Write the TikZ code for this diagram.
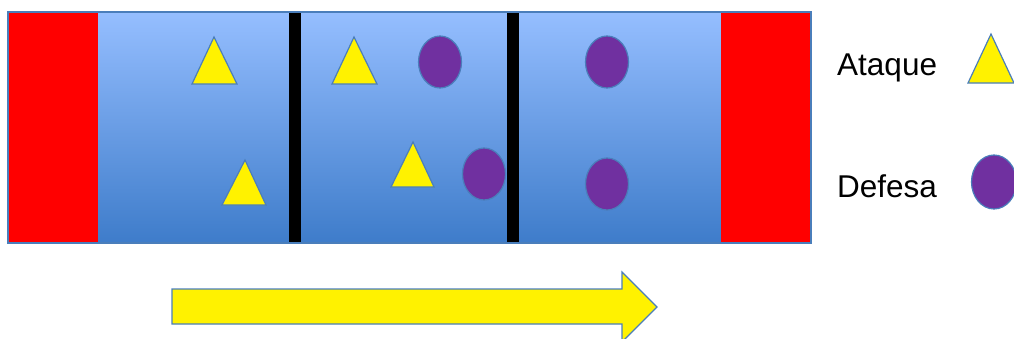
\documentclass[tikz,border=0pt]{standalone}
\usepackage{fontspec}
\setmainfont{Liberation Sans}
\usetikzlibrary{shapes.geometric}
\definecolor{topblue}{RGB}{149,190,255}
\definecolor{botblue}{RGB}{62,124,202}
\definecolor{edgeblue}{RGB}{74,126,187}
\definecolor{defpurple}{RGB}{112,48,160}
\begin{document}
\begin{tikzpicture}[x=1pt,y=-1pt,
  tri/.style={fill=yellow,draw=edgeblue,line width=1.2pt,line join=miter},
  defball/.style={ellipse,fill=defpurple,draw=edgeblue,line width=1.2pt,inner sep=0pt,minimum width=43pt,minimum height=52pt},
  legtext/.style={anchor=base west,inner sep=0pt,font=\fontsize{31.5}{36}\selectfont}]
\useasboundingbox (0,0) rectangle (1014,338);
\clip (0,0) rectangle (1014,338);
% field
\shade[top color=topblue,bottom color=botblue] (8,12) rectangle (811,243);
\fill[red] (9,13) rectangle (98,242);
\fill[red] (721,13) rectangle (810,242);
\draw[edgeblue,line width=1.5pt] (8,12) rectangle (811,243);
\fill[black] (289,13) rectangle (301,242);
\fill[black] (507,13) rectangle (519,242);
% attack
\draw[tri] (214,37) -- (237,84) -- (192,84) -- cycle;
\draw[tri] (245,160) -- (266,205) -- (222,205) -- cycle;
\draw[tri] (354,37) -- (377,84) -- (332,84) -- cycle;
\draw[tri] (413,142) -- (434,187) -- (391,187) -- cycle;
% defence
\node[defball] (d1) at (440,62) {};
\node[defball] (d2) at (484,174) {};
\node[defball] (d3) at (607,62) {};
\node[defball] (d4) at (607,184) {};
% legend
\node[legtext] (ata) at (837,75) {Ataque};
\node[legtext] (def) at (837,197) {Defesa};
\draw[tri] (991,34) -- (1014,83) -- (968,83) -- cycle;
\node[defball,minimum width=45pt,minimum height=54pt] (ld) at (994,182) {};
% arrow
\draw[fill=yellow,draw=edgeblue,line width=1.2pt]
  (172,289) -- (622,289) -- (622,272) -- (657,307) -- (622,342) -- (622,324) -- (172,324) -- cycle;
\end{tikzpicture}
\end{document}
